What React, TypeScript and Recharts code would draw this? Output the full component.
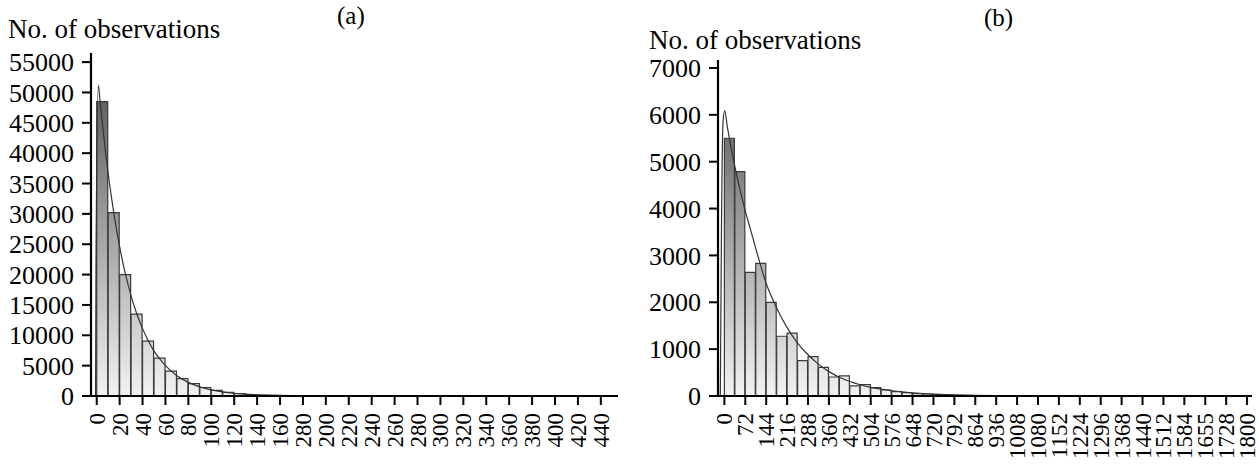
import React from 'react';
import { ComposedChart, Bar, Line, XAxis, YAxis } from 'recharts';

const FONT = '"Liberation Serif", "Times New Roman", serif';

// panel (a): 10-unit bins
const binCentersA = [5, 15, 25, 35, 45, 55, 65, 75, 85, 95, 105, 115, 125, 135, 145];
const countsA = [48500, 30200, 20000, 13500, 9050, 6250, 4100, 2850, 2050, 1400, 940, 600, 380, 200, 100];
const fitXA = [-1, -0.6, 1.4, 3, 5, 7.5, 10, 12.5, 15, 20, 25, 30, 35, 40, 45, 50, 55, 60, 70, 80, 90, 100, 110, 120, 130, 140, 150, 160, 180, 200, 240, 300];
const fitYA = [0, 23000, 51200, 48300, 44800, 40500, 36600, 33200, 30000, 24600, 20100, 16500, 13500, 11100, 9100, 7400, 6100, 5000, 3350, 2250, 1500, 1000, 670, 450, 300, 200, 135, 90, 40, 18, 4, 0];
const yTicksA = [0, 5000, 10000, 15000, 20000, 25000, 30000, 35000, 40000, 45000, 50000, 55000];
const xTicksA = [0, 20, 40, 60, 80, 100, 120, 140, 160, 180, 200, 220, 240, 260, 280, 300, 320, 340, 360, 380, 400, 420, 440];
const xLabelsA = ['0', '20', '40', '60', '80', '100', '120', '140', '160', '280', '200', '220', '240', '260', '280', '300', '320', '340', '360', '380', '400', '420', '440'];

// panel (b): 36-unit bins
const binCentersB = [18, 54, 90, 126, 162, 198, 234, 270, 306, 342, 378, 414, 450, 486, 522, 558, 594, 630, 666, 702, 738, 774, 810, 846, 882, 918];
const countsB = [5500, 4790, 2640, 2830, 2000, 1275, 1340, 755, 840, 610, 405, 430, 218, 243, 177, 128, 92, 71, 50, 43, 28, 15, 12, 8, 4, 5];
const fitXB = [-14, -10, -5, 1, 10, 20, 36, 54, 72, 90, 108, 144, 180, 216, 252, 288, 324, 360, 396, 432, 468, 504, 540, 576, 612, 648, 684, 720, 756, 792, 864, 936, 1008, 1080, 1200];
const fitYB = [0, 3600, 5800, 6090, 5750, 5400, 4900, 4400, 3950, 3550, 3150, 2400, 1880, 1460, 1130, 880, 680, 520, 400, 310, 240, 185, 145, 112, 87, 68, 53, 41, 32, 25, 15, 9, 6, 4, 2];
const yTicksB = [0, 1000, 2000, 3000, 4000, 5000, 6000, 7000];
const xTicksB = [0, 72, 144, 216, 288, 360, 432, 504, 576, 648, 720, 792, 864, 936, 1008, 1080, 1152, 1224, 1296, 1368, 1440, 1512, 1584, 1656, 1728, 1800];
const xLabelsB = ['0', '72', '144', '216', '288', '360', '432', '504', '576', '648', '720', '792', '864', '936', '1008', '1080', '1152', '1224', '1296', '1368', '1440', '1512', '1584', '1655', '1728', '1800'];

const makeXTick = (ticks: number[], labels: string[]) => (props: any) => {
  const { x, y, payload } = props;
  const i = ticks.indexOf(payload.value);
  return (
    <text
      transform={`translate(${x},${y + 6}) rotate(-90)`}
      textAnchor="end"
      dy="0.35em"
      fontSize={23}
      fontFamily={FONT}
      fill="#000"
    >
      {i >= 0 ? labels[i] : payload.value}
    </text>
  );
};

const YTick = (props: any) => {
  const { x, y, payload } = props;
  return (
    <text x={x} y={y} dy="0.35em" textAnchor="end" fontSize={26} fontFamily={FONT} fill="#000">
      {payload.value}
    </text>
  );
};

function Panel(p: any) {
  const bars = p.centers.map((x: number, i: number) => ({ x, count: p.counts[i] }));
  const fit = p.fitX.map((x: number, i: number) => ({ x, fit: p.fitY[i] }));
  const axisLine = { stroke: '#000', strokeWidth: 2.2 };
  return (
    <ComposedChart width={p.width} height={468} data={bars} margin={p.margin} barCategoryGap={0} barGap={0}>
      <defs>
        <linearGradient id={p.id} gradientUnits="userSpaceOnUse" x1="0" y1={p.margin.top} x2="0" y2={396}>
          <stop offset="0" stopColor="#4a4a4a" />
          <stop offset="1" stopColor="#f2f2f2" />
        </linearGradient>
      </defs>
      <XAxis
        xAxisId="bin"
        dataKey="x"
        type="number"
        domain={p.xDomain}
        allowDataOverflow
        ticks={p.xTicks}
        interval={0}
        height={72}
        tickSize={9}
        tickLine={{ stroke: '#000', strokeWidth: 2 }}
        axisLine={axisLine}
        tick={makeXTick(p.xTicks, p.xLabels)}
      />
      <XAxis xAxisId="fit" dataKey="x" type="number" domain={p.xDomain} allowDataOverflow hide />
      <XAxis xAxisId="top" orientation="top" type="number" domain={p.xDomain} height={0} tick={false} tickLine={false} axisLine={axisLine} />
      <YAxis
        yAxisId="left"
        type="number"
        domain={p.yDomain}
        allowDataOverflow
        ticks={p.yTicks}
        interval={0}
        width={p.yWidth}
        tickSize={9}
        tickMargin={8}
        tickLine={{ stroke: '#000', strokeWidth: 2 }}
        axisLine={axisLine}
        tick={YTick}
      />
      <YAxis yAxisId="right" orientation="right" type="number" domain={p.yDomain} width={0} tick={false} tickLine={false} axisLine={axisLine} />
      <Bar
        xAxisId="bin"
        yAxisId="left"
        dataKey="count"
        fill={`url(#${p.id})`}
        stroke="#3a3a3a"
        strokeWidth={1.2}
        isAnimationActive={false}
      />
      <Line
        xAxisId="fit"
        yAxisId="left"
        data={fit}
        dataKey="fit"
        type="monotone"
        stroke="#333"
        strokeWidth={1.2}
        dot={false}
        isAnimationActive={false}
      />
    </ComposedChart>
  );
}

const textStyle: React.CSSProperties = {
  position: 'absolute',
  fontFamily: FONT,
  fontSize: 27,
  lineHeight: '27px',
  color: '#000',
  whiteSpace: 'nowrap',
};

export default function App() {
  return (
    <div style={{ position: 'absolute', left: 0, top: 0, width: 1259, height: 468, background: '#fff', overflow: 'hidden' }}>
      <div style={{ position: 'absolute', left: 0, top: 0 }}>
        <Panel
          id="gradA"
          width={630}
          margin={{ top: 53, right: 12, bottom: 0, left: 0 }}
          yWidth={91}
          centers={binCentersA}
          counts={countsA}
          fitX={fitXA}
          fitY={fitYA}
          xDomain={[-5, 455]}
          yDomain={[0, 56500]}
          xTicks={xTicksA}
          xLabels={xLabelsA}
          yTicks={yTicksA}
        />
      </div>
      <div style={{ position: 'absolute', left: 630, top: 0 }}>
        <Panel
          id="gradB"
          width={629}
          margin={{ top: 60, right: 7, bottom: 0, left: 0 }}
          yWidth={88}
          centers={binCentersB}
          counts={countsB}
          fitX={fitXB}
          fitY={fitYB}
          xDomain={[-22, 1817]}
          yDomain={[0, 7170]}
          xTicks={xTicksB}
          xLabels={xLabelsB}
          yTicks={yTicksB}
        />
      </div>
      <div style={{ ...textStyle, left: 8, top: 16 }}>No. of observations</div>
      <div style={{ ...textStyle, left: 649, top: 27 }}>No. of observations</div>
      <div style={{ ...textStyle, left: 337, top: 2, fontSize: 25 }}>(a)</div>
      <div style={{ ...textStyle, left: 984, top: 4, fontSize: 25 }}>(b)</div>
    </div>
  );
}
